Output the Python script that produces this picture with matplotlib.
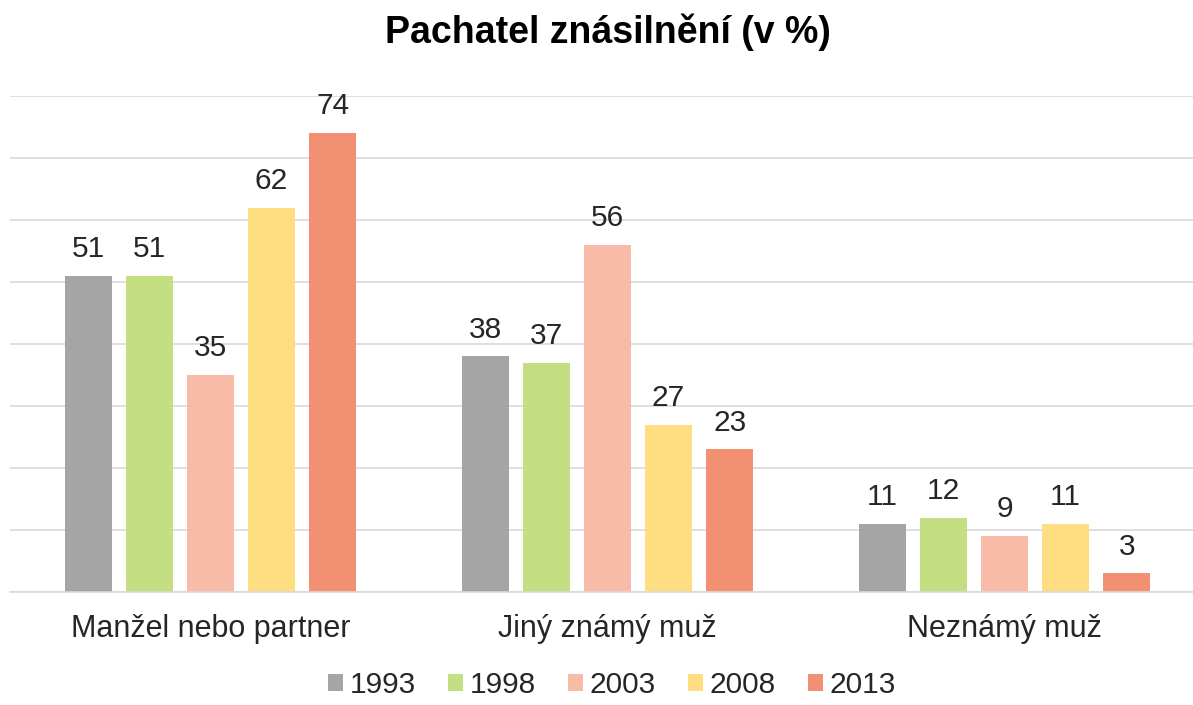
import matplotlib

matplotlib.use("Agg")
import matplotlib.pyplot as plt
import numpy as np

categories = ["Manžel nebo partner", "Jiný známý muž", "Neznámý muž"]
years = ["1993", "1998", "2003", "2008", "2013"]
values = {
    "1993": [51, 38, 11],
    "1998": [51, 37, 12],
    "2003": [35, 56, 9],
    "2008": [62, 27, 11],
    "2013": [74, 23, 3],
}
colors = ["#A5A5A5", "#C4DE82", "#F8BBA7", "#FEDE81", "#F19073"]

plt.rcParams["font.family"] = ["Liberation Sans", "DejaVu Sans"]

fig = plt.figure(figsize=(11.93, 7.05), dpi=100)
ax = fig.add_axes([10 / 1193, 113 / 705, 1183 / 1193, 496 / 705])

x = np.arange(len(categories))
pitch = 0.154
width = 0.119
for i, (year, color) in enumerate(zip(years, colors)):
    pos = x + (i - 2) * pitch
    bars = ax.bar(pos, values[year], width, color=color, label=year, zorder=2)
    for b, v in zip(bars, values[year]):
        ax.annotate(str(v), (b.get_x() + b.get_width() / 2, v), xytext=(0, 13.5),
                    textcoords="offset points", ha="center", va="baseline",
                    fontsize=21.5, color="#262626")

# plot area runs off the right edge of the image
ax.set_xlim(-0.505, 2.475)
ax.set_ylim(0, 80)
ax.set_yticks(np.arange(0, 81, 10))
ax.yaxis.grid(True, color="#D9D9D9", lw=1.2, zorder=0)
ax.tick_params(axis="y", left=False, labelleft=False)
ax.tick_params(axis="x", bottom=False, labelsize=22, labelcolor="#262626", pad=12)
ax.set_xticks(x)
ax.set_xticklabels(categories)
for s in ("top", "right", "left"):
    ax.spines[s].set_visible(False)
ax.spines["bottom"].set_color("#D9D9D9")
ax.spines["bottom"].set_linewidth(1.2)

fig.text(0.51, 0.939, "Pachatel znásilnění (v %)", ha="center", va="baseline",
         fontsize=27, fontweight="bold", color="#000000")
fig.legend(loc="center", bbox_to_anchor=(0.513, 0.028), ncol=5, frameon=False,
           fontsize=21.5, handlelength=0.5, handleheight=0.5, handletextpad=0.2,
           columnspacing=1.1, labelcolor="#262626", borderpad=0.1)

fig.savefig("out.png", dpi=100)
